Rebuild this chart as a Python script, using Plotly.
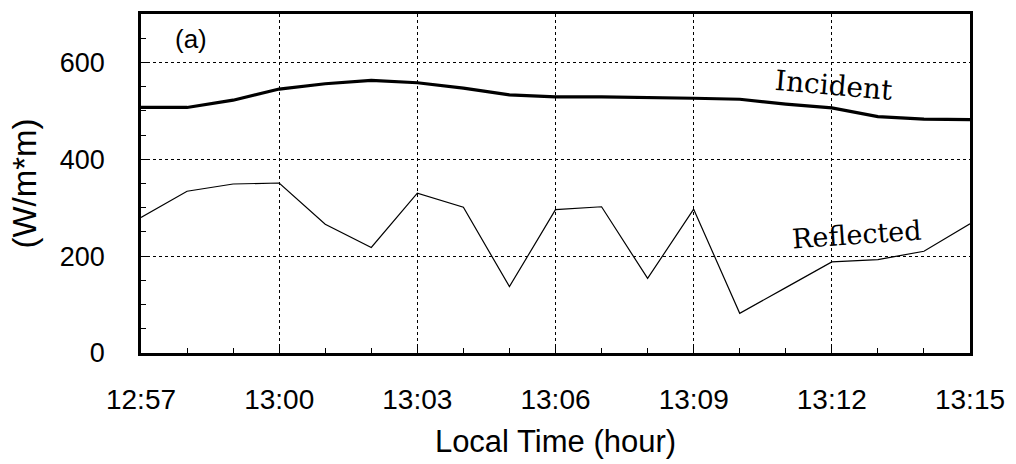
import plotly.graph_objects as go

times = ["12:57", "12:58", "12:59", "13:00", "13:01", "13:02", "13:03", "13:04",
         "13:05", "13:06", "13:07", "13:08", "13:09", "13:10", "13:11", "13:12",
         "13:13", "13:14", "13:15"]
incident = [507, 507, 522, 545, 556, 563, 558, 547, 533, 529, 529, 528, 526, 524,
            514, 506, 488, 483, 482]
reflected = [280, 334, 349, 351, 266, 218, 330, 301, 137, 296, 302, 154, 297, 82,
             135, 188, 193, 210, 267]

day = "2000-01-01 "
x = [day + t + ":00" for t in times]

fig = go.Figure()
fig.add_trace(go.Scatter(x=x, y=incident, mode="lines",
                         line=dict(color="black", width=3.2), name="Incident"))
fig.add_trace(go.Scatter(x=x, y=reflected, mode="lines",
                         line=dict(color="black", width=1.2), name="Reflected"))

fig.add_annotation(x=day + "13:12:03", y=553, text="Incident", showarrow=False,
                   textangle=5, font=dict(family="DejaVu Serif", size=28, color="black"))
fig.add_annotation(x=day + "13:12:33", y=244, text="Reflected", showarrow=False,
                   textangle=-4, font=dict(family="DejaVu Serif", size=27, color="black"))
fig.add_annotation(xref="paper", yref="paper", x=0.06, y=0.925, text="(a)",
                   xanchor="center", yanchor="middle",
                   showarrow=False, font=dict(family="Liberation Sans", size=26, color="black"))

fig.update_layout(
    width=1016, height=464,
    margin=dict(l=141, r=45, t=11, b=110),
    paper_bgcolor="white", plot_bgcolor="white",
    showlegend=False,
    font=dict(family="Liberation Sans", color="black"),
)
fig.update_xaxes(
    type="date",
    range=[day + "12:57:00", day + "13:15:00"],
    tick0=day + "12:57:00", dtick=180000, tickformat="%H:%M",
    ticks="inside", ticklen=6, tickcolor="black", tickwidth=1,
    tickfont=dict(family="Liberation Sans", size=28, color="black"),
    ticklabelstandoff=20,
    showgrid=True, gridcolor="black", griddash="dot", gridwidth=1,
    minor=dict(dtick=60000, ticks="inside", ticklen=5, tickcolor="black", showgrid=False),
    showline=True, linecolor="black", linewidth=2.5, mirror=True,
    title=dict(text="Local Time (hour)", font=dict(family="Liberation Sans", size=31, color="black"),
               standoff=16),
    zeroline=False,
)
fig.update_yaxes(
    range=[0, 700],
    tickvals=[0, 200, 400, 600],
    ticks="inside", ticklen=6, tickcolor="black", tickwidth=1,
    tickfont=dict(family="Liberation Sans", size=27, color="black"),
    ticklabelstandoff=28,
    showgrid=True, gridcolor="black", griddash="dot", gridwidth=1,
    minor=dict(dtick=50, ticks="inside", ticklen=5, tickcolor="black", showgrid=False),
    showline=True, linecolor="black", linewidth=2.5, mirror=True,
    title=dict(text="(W/m*m)", font=dict(family="Liberation Sans", size=33, color="black"),
               standoff=14),
    zeroline=False,
)

fig.write_html("out.html", config={"displayModeBar": False},
               post_script="document.body.style.margin='0px';")
